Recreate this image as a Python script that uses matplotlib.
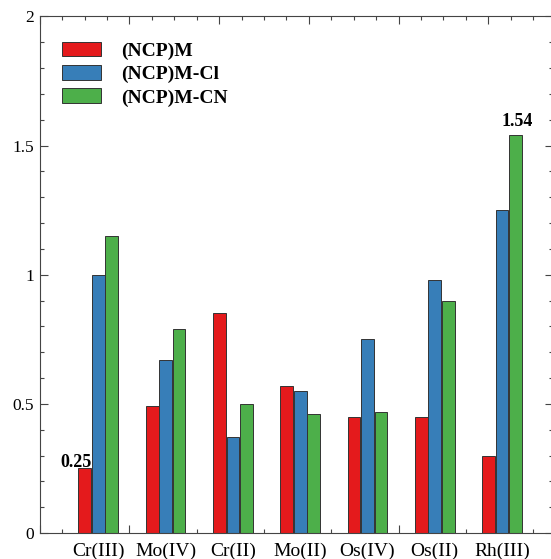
import numpy as np
import matplotlib
matplotlib.use('Agg')
import matplotlib.pyplot as plt
from matplotlib.ticker import MultipleLocator

plt.rcParams['font.family'] = ['Liberation Serif', 'DejaVu Serif']

categories = ['Cr(III)', 'Mo(IV)', 'Cr(II)', 'Mo(II)', 'Os(IV)', 'Os(II)', 'Rh(III)']
ncp_m = [0.25, 0.49, 0.85, 0.57, 0.45, 0.45, 0.30]
ncp_m_cl = [1.00, 0.67, 0.37, 0.55, 0.75, 0.98, 1.25]
ncp_m_cn = [1.15, 0.79, 0.50, 0.46, 0.47, 0.90, 1.54]
series_names = ['(NCP)M', '(NCP)M-Cl', '(NCP)M-CN']
ytick_vals = [0, 0.5, 1, 1.5, 2]
ytick_labels = ['0', '0.5', '1', '1.5', '2']

colors = ['#E41A1C', '#377EB8', '#4DAF4A']
edge = '#333333'

fig = plt.figure(figsize=(5.51, 5.59), dpi=100)
# right spine sits just past the image edge, like the reference crop
ax = fig.add_axes([0.072, 0.0465, 0.932, 0.924])

x = np.arange(len(categories))
w = 0.19
off = 0.2
for k, vals in enumerate([ncp_m, ncp_m_cl, ncp_m_cn]):
    ax.bar(x + (k - 1) * off, vals, width=w, color=colors[k], edgecolor=edge,
           linewidth=0.7, label=series_names[k], zorder=2)

xmin, xmax = -0.872, 6.76
ax.set_xlim(xmin, xmax)
ax.set_ylim(0, 2)
ax.set_xticks(xmin + np.arange(6) * 4 / 3)
ax.set_xticks(xmin + np.arange(23) * 1 / 3, minor=True)
ax.set_xticklabels([])
ax.set_yticks(ytick_vals, ytick_labels)
ax.yaxis.set_minor_locator(MultipleLocator(0.1))

ax.tick_params(which='both', direction='in', top=True, right=True, color='#444444', width=0.8)
ax.tick_params(which='major', length=6, labelsize=12.5, pad=4)
ax.tick_params(which='minor', length=3)
for s in ax.spines.values():
    s.set_color('#444444')
    s.set_linewidth(0.8)

for i, c in enumerate(categories):
    ax.text(x[i], -0.019, c, transform=ax.get_xaxis_transform(), ha='center', va='top',
            fontsize=14)

# value labels
ax.text(x[0] - off + w / 2, ncp_m[0] + 0.004, '0.25', ha='right', va='baseline',
        fontsize=13, fontweight='bold', zorder=3)
ax.text(x[6] + off + 0.03, ncp_m_cn[6] + 0.02, '1.54', ha='center', va='bottom',
        fontsize=13, fontweight='bold')

ax.legend(loc='upper left', bbox_to_anchor=(0.044, 0.951), frameon=False,
          prop={'size': 14, 'weight': 'bold'}, handlelength=2.0, handleheight=0.77,
          handletextpad=1.05, labelspacing=0.27, borderpad=0, borderaxespad=0)

fig.savefig('out.png', dpi=100)
